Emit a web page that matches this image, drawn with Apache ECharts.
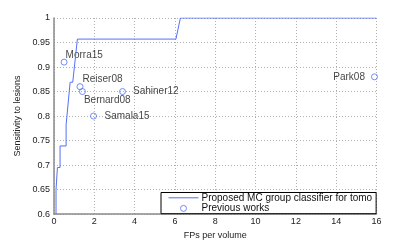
<!DOCTYPE html>
<html><head><meta charset="utf-8">
<script src="https://cdn.jsdelivr.net/npm/echarts@6/dist/echarts.min.js"></script>
<style>html,body{margin:0;padding:0;background:#fff}#c{width:415px;height:245px}</style>
</head><body><div id="c"></div>
<script>
var curveFPs  = [0.1, 0.1, 0.17, 0.3, 0.3, 0.6, 0.6, 0.66, 0.8, 0.93, 1.16, 6.05, 6.27, 16];
var curveSens = [0.6, 0.65, 0.695, 0.695, 0.739, 0.739, 0.782, 0.782, 0.869, 0.869, 0.957, 0.957, 1.0, 1.0];
var workNames = ['Morra15', 'Reiser08', 'Bernard08', 'Sahiner12', 'Samala15', 'Park08'];
var workFPs   = [0.5, 1.29, 1.41, 3.4, 1.96, 15.9];
var workSens  = [0.91, 0.86, 0.85, 0.85, 0.80, 0.88];
var xTicks = [0, 2, 4, 6, 8, 10, 12, 14, 16];
var yTicks = [0.6, 0.65, 0.7, 0.75, 0.8, 0.85, 0.9, 0.95, 1];

var labelOffsets = [[-2,-7],[-1,-7],[-2,9],[7,0],[7.5,0],[-6,0]];
var labelPos = ['right','right','right','right','right','left'];

var blue = '#5470f5';
var lineData = curveFPs.map(function(x,i){return [x, curveSens[i]];});
var ptData = workNames.map(function(n,i){
  return {name:n, value:[workFPs[i], workSens[i]],
    label:{show:true, formatter:n, position:labelPos[i], distance:0, offset:labelOffsets[i]}};
});
var chart = echarts.init(document.getElementById('c'), null, {renderer:'canvas'});
var gridStyle = {show:true, lineStyle:{color:'#b0b0b0', type:[1,2], width:1}};
chart.setOption({
  animation:false,
  textStyle:{fontFamily:'Liberation Sans, Arial, sans-serif'},
  grid:{left:54, right:38.5, top:18, bottom:27.3},
  xAxis:{type:'value', min:0, max:16, interval:2,
    name:'FPs per volume', nameLocation:'middle', nameGap:15,
    nameTextStyle:{fontSize:9, color:'#222'},
    axisLine:{show:true, onZero:false, lineStyle:{color:'#8a8a8a', width:1.5}},
    axisTick:{show:false},
    axisLabel:{fontSize:9, color:'#222', margin:3},
    splitLine:gridStyle},
  yAxis:{type:'value', min:0.6, max:1, interval:0.05,
    name:'Sensitivity to lesions', nameLocation:'middle', nameGap:25,
    nameTextStyle:{fontSize:9, color:'#222'},
    axisLine:{show:true, onZero:false, lineStyle:{color:'#8a8a8a', width:1.5}},
    axisTick:{show:false},
    axisLabel:{fontSize:9, color:'#222', margin:4},
    splitLine:gridStyle},
  legend:{orient:'vertical', left:161, top:192.5, width:211,
    backgroundColor:'#fff', borderColor:'#000', borderWidth:1,
    padding:[0,4,0,7], itemGap:0, itemWidth:30, itemHeight:6,
    textStyle:{fontSize:10, color:'#111', lineHeight:10.6, padding:[0,0,0,-2]},
    data:[
      {name:'Proposed MC group classifier for tomo', itemStyle:{color:'rgba(0,0,0,0)', borderWidth:0, opacity:0}, lineStyle:{width:1, color:blue}},
      {name:'Previous works', icon:'circle', itemStyle:{color:'#fff', borderColor:blue, borderWidth:1}}
    ]},
  series:[
    {name:'Proposed MC group classifier for tomo', type:'line', data:lineData,
      showSymbol:false, symbol:'none', lineStyle:{color:blue, width:1}, itemStyle:{color:blue}},
    {name:'Previous works', type:'scatter', data:ptData, symbol:'circle', symbolSize:6,
      itemStyle:{color:'rgba(255,255,255,0)', borderColor:blue, borderWidth:1},
      label:{fontSize:10, color:'#111'}}
  ]
});
</script></body></html>
